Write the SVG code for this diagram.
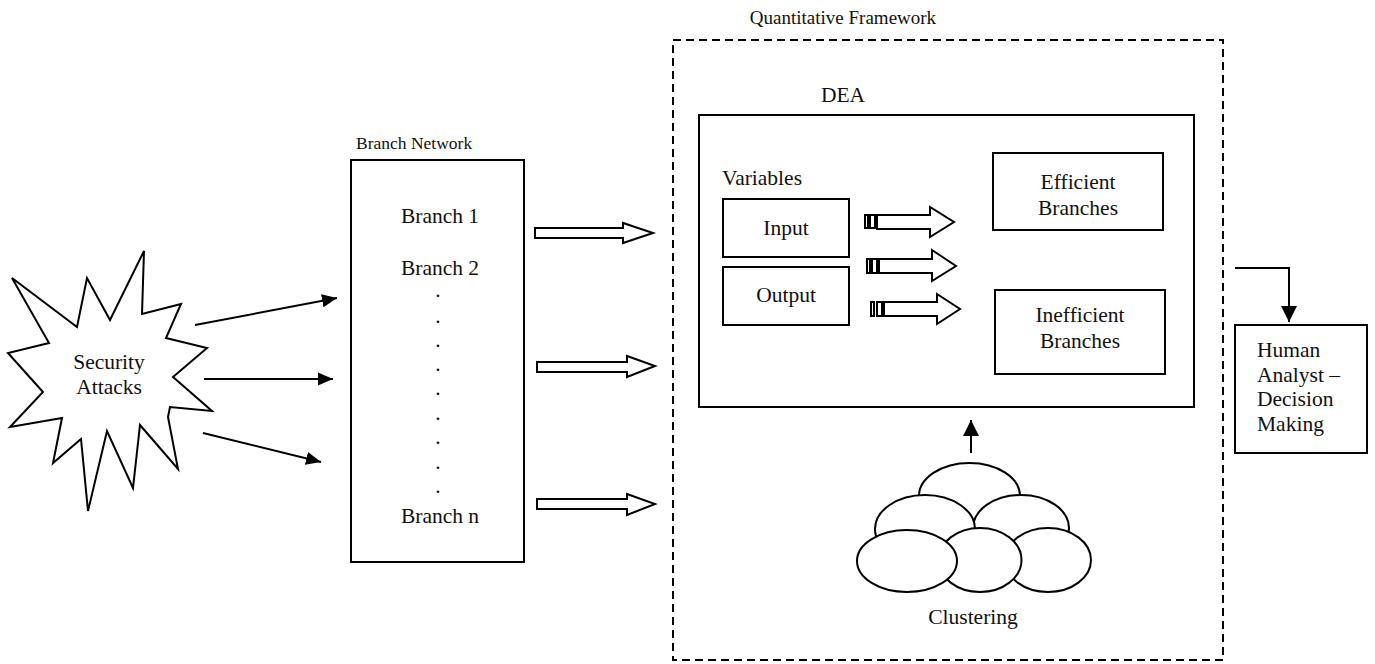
<svg xmlns="http://www.w3.org/2000/svg" width="1375" height="664" viewBox="0 0 1375 664">
<defs>
<style>
text{font-family:"Liberation Serif","Times New Roman",serif;font-size:21.5px;fill:#111}
.c{text-anchor:middle}
.sm{font-size:19px}
.xs{font-size:17.5px}
.box{fill:#fff;stroke:#000;stroke-width:2}
.ln{fill:none;stroke:#000;stroke-width:2}
.blk{fill:#fff;stroke:#000;stroke-width:2;stroke-linejoin:miter}
.ell{fill:#fff;stroke:#000;stroke-width:2}
</style>
<marker id="ah" viewBox="0 0 16 16" refX="16" refY="8" markerWidth="15" markerHeight="15" markerUnits="userSpaceOnUse" orient="auto">
<path d="M0,1 L16,8 L0,15 z" fill="#000"/>
</marker>
<marker id="ahb" viewBox="0 0 16 16" refX="16" refY="8" markerWidth="16" markerHeight="16" markerUnits="userSpaceOnUse" orient="auto">
<path d="M0,0 L16,8 L0,16 z" fill="#000"/>
</marker>
</defs>
<rect width="1375" height="664" fill="#fff"/>

<g id="quantitative-framework">
<rect x="673" y="40" width="550" height="620" fill="none" stroke="#000" stroke-width="2" stroke-dasharray="8,5"/>
<text class="c sm" x="843" y="24">Quantitative Framework</text>
</g>

<g id="security-attacks">
<polygon class="box" points="12,278 77,327 87,278 110,320 144,251 142,314 181,304 166,338 207,348 173,377 212,411 170,407 168,417 178,469 140,425 133,488 107,431 88,511 81,439 53,463 62,418 10,427 43,392 8,353 49,343"/>
<text class="c" x="109" y="369">Security</text>
<text class="c" x="109" y="394">Attacks</text>
</g>

<g id="branch-network">
<rect class="box" x="351" y="160" width="173" height="402"/>
<text class="xs" x="356" y="149">Branch Network</text>
<text class="c" x="440" y="223">Branch 1</text>
<text class="c" x="440" y="275">Branch 2</text>
<text class="c" x="438" y="297">.</text>
<text class="c" x="438" y="323">.</text>
<text class="c" x="438" y="347">.</text>
<text class="c" x="438" y="371">.</text>
<text class="c" x="438" y="395">.</text>
<text class="c" x="438" y="420">.</text>
<text class="c" x="438" y="444">.</text>
<text class="c" x="438" y="469">.</text>
<text class="c" x="438" y="493">.</text>
<text class="c" x="440" y="523">Branch n</text>
</g>

<g id="dea">
<rect class="box" x="699" y="115" width="495" height="292"/>
<text class="c" x="843" y="102">DEA</text>
<text x="722" y="185">Variables</text>
</g>

<g id="input">
<rect class="box" x="723" y="199" width="126" height="58"/>
<text class="c" x="786" y="235">Input</text>
</g>

<g id="output">
<rect class="box" x="723" y="267" width="126" height="58"/>
<text class="c" x="786" y="302">Output</text>
</g>

<g id="efficient-branches">
<rect class="box" x="993" y="153" width="170" height="77"/>
<text class="c" x="1078" y="189">Efficient</text>
<text class="c" x="1078" y="215">Branches</text>
</g>

<g id="inefficient-branches">
<rect class="box" x="995" y="290" width="170" height="84"/>
<text class="c" x="1080" y="322">Inefficient</text>
<text class="c" x="1080" y="348">Branches</text>
</g>

<g id="human-analyst">
<rect class="box" x="1235" y="325" width="132" height="128"/>
<text x="1257" y="357">Human</text>
<text x="1257" y="382">Analyst –</text>
<text x="1257" y="406">Decision</text>
<text x="1257" y="431">Making</text>
</g>

<g id="clustering">
<ellipse class="ell" cx="969.5" cy="496" rx="50.5" ry="33"/>
<ellipse class="ell" cx="1021" cy="528" rx="48" ry="33"/>
<ellipse class="ell" cx="925" cy="529" rx="50" ry="34"/>
<ellipse class="ell" cx="1048" cy="560" rx="43" ry="32"/>
<ellipse class="ell" cx="980" cy="560" rx="41.5" ry="32"/>
<ellipse class="ell" cx="907" cy="561" rx="50" ry="31"/>
<text class="c" x="973" y="624">Clustering</text>
</g>

<g id="connectors">
<line class="ln" x1="195" y1="325" x2="337" y2="298" marker-end="url(#ah)"/>
<line class="ln" x1="204" y1="379" x2="333" y2="379" marker-end="url(#ah)"/>
<line class="ln" x1="203" y1="433" x2="321" y2="462" marker-end="url(#ah)"/>

<polygon class="blk" points="535,228 623,228 623,223 653,233 623,243 623,238 535,238"/>
<polygon class="blk" points="537,362 627,362 627,356 655,366 627,377 627,372 537,372"/>
<polygon class="blk" points="537,499 627,499 627,494 655,504 627,515 627,509 537,509"/>

<g>
<rect class="blk" x="865" y="215" width="3" height="13" stroke-width="1.5"/>
<rect class="blk" x="870" y="215" width="5" height="13" stroke-width="1.5"/>
<polygon class="blk" points="877,215 930,215 930,207 954,222 930,237 930,229 877,229"/>
</g>
<g>
<rect class="blk" x="867" y="259" width="3" height="14" stroke-width="1.5"/>
<rect class="blk" x="872" y="259" width="5" height="14" stroke-width="1.5"/>
<polygon class="blk" points="879,259 932,259 932,250 956,266 932,281 932,273 879,273"/>
</g>
<g>
<rect class="blk" x="871" y="302" width="3" height="14" stroke-width="1.5"/>
<rect class="blk" x="877" y="302" width="5" height="14" stroke-width="1.5"/>
<polygon class="blk" points="884,302 937,302 937,294 960,309 937,324 937,316 884,316"/>
</g>

<polyline class="ln" points="1235,268 1289,268 1289,322" marker-end="url(#ahb)"/>
<line class="ln" x1="971" y1="453" x2="971" y2="420" marker-end="url(#ahb)"/>
</g>
</svg>
